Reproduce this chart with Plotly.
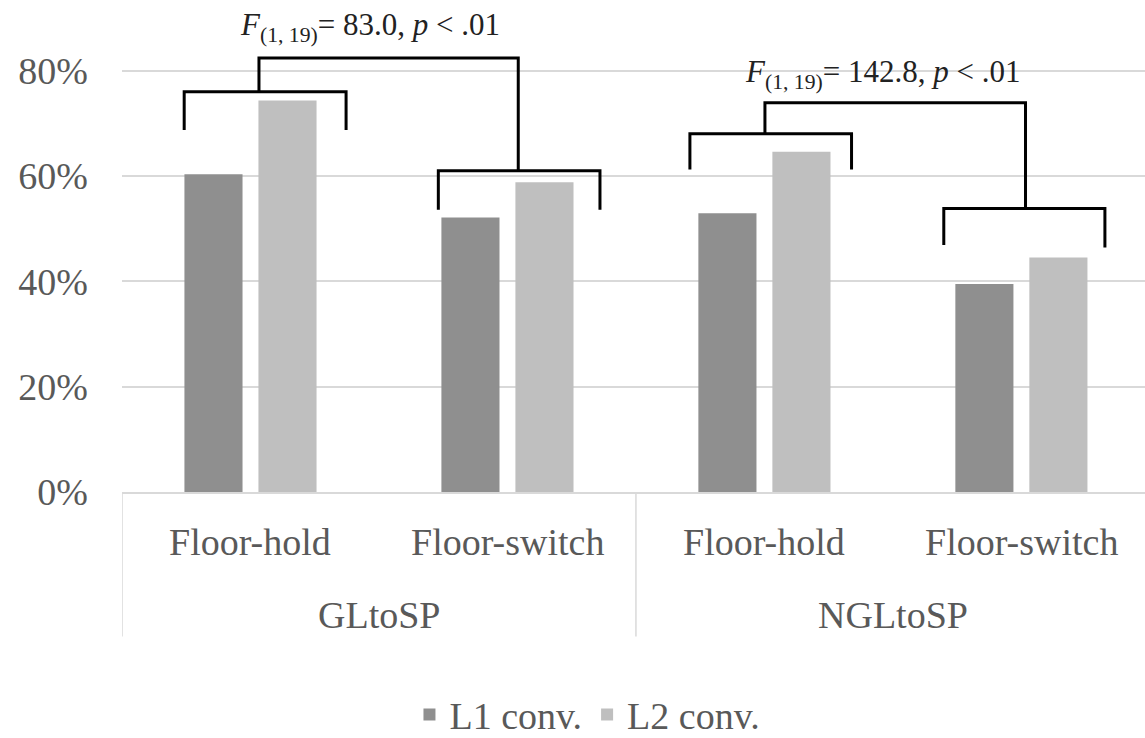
import plotly.graph_objects as go

# ---- data ----
groups = ["GLtoSP", "GLtoSP", "NGLtoSP", "NGLtoSP"]
conditions = ["Floor-hold", "Floor-switch", "Floor-hold", "Floor-switch"]
l1_conv = [60.3, 52.1, 52.9, 39.5]
l2_conv = [74.3, 58.8, 64.6, 44.5]
series_names = ["L1 conv.", "L2 conv."]
y_ticks = [0, 20, 40, 60, 80]
stat_labels = ["<i>F</i><sub>(1, 19)</sub>= 83.0, <i>p</i> &lt; .01",
               "<i>F</i><sub>(1, 19)</sub>= 142.8, <i>p</i> &lt; .01"]

FONT = "Liberation Serif"
GRAY = "#595959"
GRID = "#d9d9d9"
X_RANGE = [-0.5, 3.481]
Y_RANGE = [0, 91.5]
FS = 38

xpos = list(range(len(conditions)))

fig = go.Figure()
fig.add_trace(go.Bar(x=xpos, y=l1_conv, name=series_names[0],
                     marker=dict(color="#8f8f8f", line=dict(width=0))))
fig.add_trace(go.Bar(x=xpos, y=l2_conv, name=series_names[1],
                     marker=dict(color="#bfbfbf", line=dict(width=0))))

# ---- brackets (comparison markers) ----
def bracket(x0, x1, ytop, ybot0, ybot1):
    return f"M {x0},{ybot0} L {x0},{ytop} L {x1},{ytop} L {x1},{ybot1}"

bracket_paths = [
    bracket(-0.258, 0.372, 76.0, 68.7, 68.7),
    bracket(0.033, 1.042, 82.4, 76.0, 61.0),
    bracket(0.731, 1.360, 61.0, 53.6, 53.6),
    bracket(1.710, 2.339, 68.0, 61.2, 61.2),
    bracket(2.002, 3.016, 73.9, 68.0, 53.8),
    bracket(2.698, 3.325, 53.8, 46.9, 46.4),
]
shapes = []
for p in bracket_paths:
    shapes.append(dict(type="path", path=p, xref="x", yref="y",
                       line=dict(color="black", width=3)))

# ---- category separators below axis ----
group_names = []
for g in groups:
    if g not in group_names:
        group_names.append(g)
bounds = [-0.5]
for i in range(1, len(groups)):
    if groups[i] != groups[i - 1]:
        bounds.append(i - 0.5)
bounds.append(len(groups) - 0.5)
for b in bounds:
    shapes.append(dict(type="line", xref="x", yref="paper", x0=b, x1=b,
                       y0=0, y1=-0.300, line=dict(color=GRID, width=1.5)))

annotations = []
for i, c in enumerate(conditions):
    annotations.append(dict(x=i, y=-0.104, xref="x", yref="paper", text=c,
                            showarrow=False, xanchor="center", yanchor="middle",
                            font=dict(family=FONT, size=FS, color=GRAY)))
for g in group_names:
    idx = [i for i, gg in enumerate(groups) if gg == g]
    annotations.append(dict(x=sum(idx) / len(idx), y=-0.256, xref="x", yref="paper",
                            text=g, showarrow=False, xanchor="center", yanchor="middle",
                            font=dict(family=FONT, size=FS, color=GRAY)))

annotations.append(dict(x=0.465, y=88.3, xref="x", yref="y", text=stat_labels[0],
                        showarrow=False, xanchor="center", yanchor="middle",
                        font=dict(family=FONT, size=31, color="#222222")))
annotations.append(dict(x=2.461, y=79.4, xref="x", yref="y", text=stat_labels[1],
                        showarrow=False, xanchor="center", yanchor="middle",
                        font=dict(family=FONT, size=31, color="#222222")))

fig.update_layout(
    width=1145, height=738,
    margin=dict(l=122, r=0, t=10, b=246, autoexpand=False),
    paper_bgcolor="white", plot_bgcolor="white",
    barmode="group", bargap=0.424, bargroupgap=0.215,
    font=dict(family=FONT, size=FS, color=GRAY),
    showlegend=True,
    legend=dict(orientation="h", x=0.455, y=-0.462, xanchor="center", yanchor="middle",
                font=dict(family=FONT, size=FS, color=GRAY), itemwidth=30,
                tracegroupgap=0, bgcolor="rgba(0,0,0,0)"),
    xaxis=dict(range=X_RANGE, showticklabels=False, showgrid=False, zeroline=False,
               showline=True, linecolor=GRID, linewidth=1.5, ticks="", fixedrange=True),
    yaxis=dict(range=Y_RANGE, tickvals=y_ticks, ticktext=[f"{v}%" for v in y_ticks],
               showgrid=True, gridcolor=GRID, gridwidth=1.5, zeroline=False,
               showline=False, ticks="", ticklabelstandoff=33,
               tickfont=dict(family=FONT, size=FS, color=GRAY)),
    shapes=shapes,
    annotations=annotations,
)

fig.write_html("out.html")
